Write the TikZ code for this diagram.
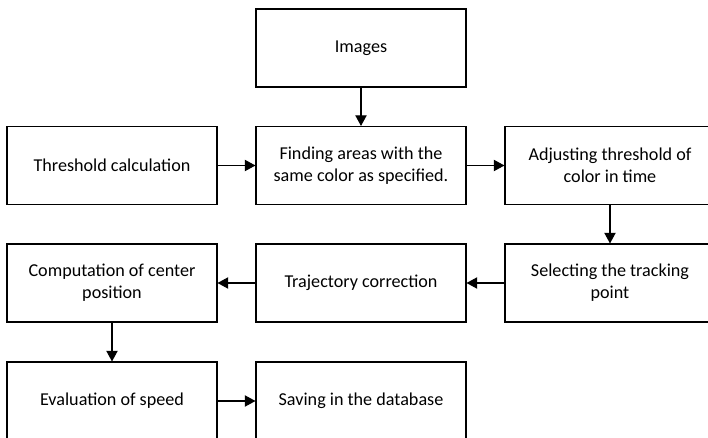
\documentclass[tikz,border=0pt]{standalone}
\usepackage{fontspec}
\setmainfont{Carlito}
\usetikzlibrary{arrows.meta}

\begin{document}
\begin{tikzpicture}[x=0.75pt, y=-0.75pt, font=\fontsize{13.6}{16.3}\selectfont,
  box/.style={draw, line width=0.8pt, rectangle, align=center, minimum width=157.5pt, minimum height=58.5pt, inner sep=0pt},
  arr/.style={-{Triangle[length=8pt, width=8.5pt]}, line width=0.8pt}]

\clip (0, 0) rectangle (708, 438);

\node (1) [box] at (361, 48) {Images};

\node (2) [box] at (112, 165.5) {Threshold calculation};
\node (3) [box] at (361, 165.5) {Finding areas with the \\ same color as specified.};
\node (4) [box] at (610, 165.5) {Adjusting threshold of \\ color in time};

\node (5) [box] at (112, 283) {Computation of center \\ position};
\node (6) [box] at (361, 283) {Trajectory correction};
\node (7) [box] at (610, 283) {Selecting the tracking \\ point};

\node (8) [box] at (112, 401) {Evaluation of speed};
\node (9) [box] at (361, 401) {Saving in the database};

\draw [arr] (1) -- (3);
\draw [arr] (2) -- (3);
\draw [arr] (3) -- (4);
\draw [arr] (4) -- (7);
\draw [arr] (7) -- (6);
\draw [arr] (6) -- (5);
\draw [arr] (5) -- (8);
\draw [arr] (8) -- (9);

\end{tikzpicture}
\end{document}
